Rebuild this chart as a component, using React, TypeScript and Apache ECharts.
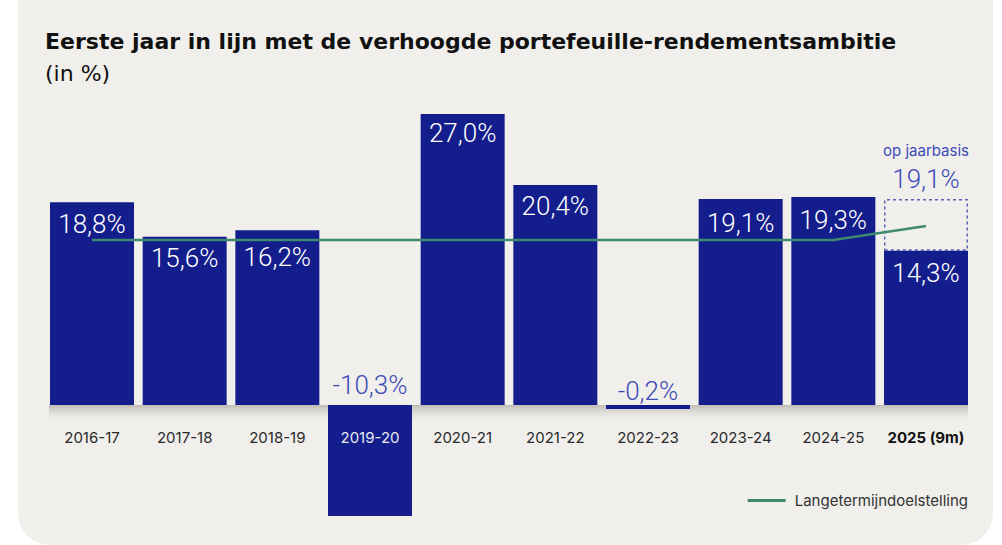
import React, { useEffect, useRef } from "react";
import * as echarts from "echarts";

const categories = ["2016-17", "2017-18", "2018-19", "2019-20", "2020-21", "2021-22", "2022-23", "2023-24", "2024-25", "2025 (9m)"];
const returns = [18.8, 15.6, 16.2, -10.3, 27.0, 20.4, -0.2, 19.1, 19.3, 14.3];
const longTermTarget = [15.3, 15.3, 15.3, 15.3, 15.3, 15.3, 15.3, 15.3, 15.3, 16.6];
const annualized = [null, null, null, null, null, null, null, null, null, 19.1];
const titleText = "Eerste jaar in lijn met de verhoogde portefeuille-rendementsambitie";
const subtitleText = "(in %)";
const annualizedText = "op jaarbasis";
const legendName = "Langetermijndoelstelling";

// label styling tweaks (not data)
const labelDistance = [9, 8, 14, 7, 6, 8, 1, 11, 10, 9];

const BAR = "#131e8c";
const LABEL_BLUE = "#3d4bb8";
const GREEN = "#3f8a6f";
const BG = "#f0efeb";
const FONT = "Inter, 'Noto Sans', sans-serif";
const TITLE_FONT = "'DejaVu Sans', Inter, sans-serif";
const VALUE_FONT = "Roboto, 'Noto Sans', sans-serif";

const fmt = (v: number) => v.toFixed(1).replace(".", ",") + "%";

export default function App() {
  const ref = useRef<HTMLDivElement>(null);
  useEffect(() => {
    document.body.style.margin = "0";
    const chart = echarts.init(ref.current!, null, { renderer: "svg" });
    const barData = returns.map((v, i) => ({
      value: v,
      label:
        v >= 0
          ? { show: true, position: "insideTop", distance: labelDistance[i], color: "#ffffff" }
          : { show: true, position: "top", distance: labelDistance[i], color: LABEL_BLUE },
    }));
    const extraData = annualized.map((a, i) =>
      a == null
        ? "-"
        : {
            value: +(a - returns[i]).toFixed(2),
            label: {
              show: true,
              position: "top",
              distance: 6,
              formatter: "{a|" + annualizedText + "}\n{b|" + fmt(a) + "}",
              rich: {
                a: { fontSize: 15, lineHeight: 30, color: LABEL_BLUE, fontFamily: FONT, fontWeight: 400 },
                b: { fontSize: 26, lineHeight: 28, color: LABEL_BLUE, fontFamily: VALUE_FONT, fontWeight: 300 },
              },
            },
          }
    );
    const baseGraphic = [
      { type: "rect", z: -10, shape: { x: 18, y: -40, width: 975, height: 585, r: 32 }, style: { fill: BG } },
      { type: "text", left: 45, top: 30, style: { text: titleText, font: "bold 22px " + TITLE_FONT, fill: "#111111" } },
      { type: "text", left: 45, top: 62, style: { text: subtitleText, font: "400 22px " + TITLE_FONT, fill: "#111111" } },
    ];
    chart.setOption({
      animation: false,
      backgroundColor: "transparent",
      graphic: baseGraphic,
      // grid bottom sits on the zero line; negative bars extend below it (clip: false)
      grid: { left: 45.67, right: 29.67, top: 103.16, bottom: 140, outerBoundsMode: "none", containLabel: false },
      legend: {
        data: [legendName],
        right: 29,
        top: 488,
        icon: "rect",
        itemWidth: 38,
        itemHeight: 3,
        itemGap: 8,
        textStyle: { fontSize: 15, color: "#333333", fontFamily: FONT, padding: [0, 0, 0, 4] },
      },
      xAxis: {
        type: "category",
        data: categories.map((c, i) => ({
          value: c,
          textStyle:
            i === 3
              ? { color: "#e8e8f0" }
              : i === categories.length - 1
              ? { color: "#111111", fontWeight: "bold" }
              : { color: "#2a2a2a" },
        })),
        axisLine: { show: false },
        axisTick: { show: false },
        axisLabel: { margin: 25, fontSize: 15, fontFamily: FONT, interval: 0 },
        z: 10,
      },
      yAxis: {
        type: "value",
        min: 0,
        max: 28,
        show: false,
        splitLine: { show: false },
      },
      series: [
        {
          type: "bar",
          name: "Rendement",
          stack: "r",
          data: barData,
          barWidth: 84,
          barMinHeight: 4,
          clip: false,
          z: 3,
          itemStyle: { color: BAR },
          label: {
            fontSize: 26,
            lineHeight: 26,
            fontFamily: VALUE_FONT,
            fontWeight: 300,
            formatter: (p: any) => fmt(p.value),
          },
        },
        {
          type: "bar",
          name: "Op jaarbasis",
          stack: "r",
          data: extraData,
          barWidth: 84,
          clip: false,
          z: 2,
          itemStyle: { color: "rgba(0,0,0,0)", borderColor: "#5b64b5", borderWidth: 1.5, borderType: [3, 3] },
        },
        {
          type: "line",
          name: legendName,
          data: longTermTarget,
          symbol: "none",
          z: 5,
          lineStyle: { color: GREEN, width: 2.5 },
          itemStyle: { color: GREEN },
        },
      ],
    });
    // shadow under the zero line
    const y0 = chart.convertToPixel({ yAxisIndex: 0 }, 0) as number;
    const xFirst = chart.convertToPixel({ xAxisIndex: 0 }, 0) as number;
    const xLast = chart.convertToPixel({ xAxisIndex: 0 }, categories.length - 1) as number;
    chart.setOption({
      graphic: [
        ...baseGraphic,
        {
          type: "rect",
          z: -5,
          shape: { x: xFirst - 43, y: y0, width: xLast - xFirst + 85, height: 18 },
          style: {
            fill: new echarts.graphic.LinearGradient(0, 0, 0, 1, [
              { offset: 0, color: "rgba(150,145,135,0.55)" },
              { offset: 1, color: "rgba(240,239,235,0)" },
            ]),
          },
        },
      ],
    });
    return () => chart.dispose();
  }, []);
  return <div ref={ref} style={{ position: "absolute", left: 0, top: 0, width: 1002, height: 545 }} />;
}
